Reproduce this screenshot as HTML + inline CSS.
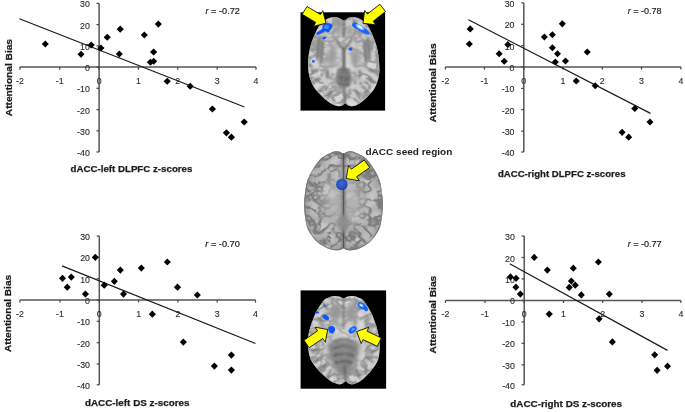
<!DOCTYPE html>
<html><head><meta charset="utf-8"><style>
html,body{margin:0;padding:0;background:#fff;}
svg{display:block;filter:blur(0.35px);will-change:transform;}
.tk{font-family:"Liberation Sans",sans-serif;font-size:8.8px;fill:#2a2a2a;stroke:#2a2a2a;stroke-width:0.12px;}
.rl{font-family:"Liberation Sans",sans-serif;font-size:9px;fill:#222;stroke:#222;stroke-width:0.2px;}
.tl{font-family:"Liberation Sans",sans-serif;font-size:9.4px;font-weight:bold;fill:#1c1c1c;stroke:#1c1c1c;stroke-width:0.25px;}
.sd{font-family:"Liberation Sans",sans-serif;font-size:9.8px;font-weight:bold;fill:#222;}
</style></head><body>
<svg width="685" height="412" viewBox="0 0 685 412">
<defs>
<filter id="nz0" x="0" y="0" width="100%" height="100%"><feTurbulence type="turbulence" baseFrequency="0.09 0.12" numOctaves="2" seed="3"/><feColorMatrix type="matrix" values="0 0 0 0 0.3 0 0 0 0 0.3 0 0 0 0 0.3 -3.2 0 0 0 1.15"/><feGaussianBlur stdDeviation="0.55"/></filter>
<filter id="nz1" x="0" y="0" width="100%" height="100%"><feTurbulence type="turbulence" baseFrequency="0.1 0.12" numOctaves="2" seed="7"/><feColorMatrix type="matrix" values="0 0 0 0 0.2 0 0 0 0 0.2 0 0 0 0 0.2 -4.5 0 0 0 1.45"/><feGaussianBlur stdDeviation="0.55"/></filter>
<filter id="nz2" x="0" y="0" width="100%" height="100%"><feTurbulence type="turbulence" baseFrequency="0.09 0.12" numOctaves="2" seed="11"/><feColorMatrix type="matrix" values="0 0 0 0 0.3 0 0 0 0 0.3 0 0 0 0 0.3 -3.2 0 0 0 1.15"/><feGaussianBlur stdDeviation="0.55"/></filter>
<filter id="bl" filterUnits="userSpaceOnUse" x="0" y="0" width="685" height="412"><feGaussianBlur stdDeviation="1.2"/></filter>
<filter id="nzL" x="0" y="0" width="100%" height="100%"><feTurbulence type="fractalNoise" baseFrequency="0.09" numOctaves="2" seed="21"/><feColorMatrix type="matrix" values="0 0 0 0 0.88 0 0 0 0 0.88 0 0 0 0 0.88 3.5 0 0 0 -1.55"/><feGaussianBlur stdDeviation="0.8"/></filter>
<filter id="bl3" filterUnits="userSpaceOnUse" x="0" y="0" width="685" height="412"><feGaussianBlur stdDeviation="2"/></filter>
<filter id="bl5" filterUnits="userSpaceOnUse" x="0" y="0" width="685" height="412"><feGaussianBlur stdDeviation="0.8"/></filter>
<filter id="bl4" filterUnits="userSpaceOnUse" x="0" y="0" width="685" height="412"><feGaussianBlur stdDeviation="0.5"/></filter>
<radialGradient id="rimg" cx="0.5" cy="0.5" r="0.5"><stop offset="0.3" stop-color="#333"/><stop offset="0.75" stop-color="#fff"/></radialGradient>
<radialGradient id="axg" cx="0.5" cy="0.5" r="0.5"><stop offset="0.25" stop-color="#555"/><stop offset="0.8" stop-color="#fff"/></radialGradient>
<mask id="axmask0" maskUnits="userSpaceOnUse" x="300" y="0" width="90" height="120"><ellipse cx="343.5" cy="61.5" rx="37" ry="47" fill="url(#axg)"/></mask>
<mask id="axmask2" maskUnits="userSpaceOnUse" x="300" y="280" width="90" height="120"><ellipse cx="343.5" cy="340" rx="37" ry="46" fill="url(#axg)"/></mask>
<mask id="rimmask" maskUnits="userSpaceOnUse" x="300" y="140" width="90" height="120"><ellipse cx="343.5" cy="200.5" rx="40" ry="51" fill="url(#rimg)"/></mask>
<filter id="bl2" filterUnits="userSpaceOnUse" x="0" y="0" width="685" height="412"><feGaussianBlur stdDeviation="0.6"/></filter>
<radialGradient id="dot" cx="0.45" cy="0.42" r="0.6"><stop offset="0" stop-color="#3d68d8"/><stop offset="0.7" stop-color="#2b50c0"/><stop offset="1" stop-color="#1d3a98"/></radialGradient>
</defs>
<rect width="685" height="412" fill="#fff"/>
<line x1="19.9" y1="67.1" x2="256.0" y2="67.1" stroke="#555555" stroke-width="1.5"/>
<line x1="99.1" y1="3.4" x2="99.1" y2="152.0" stroke="#555555" stroke-width="1.5"/>
<line x1="19.9" y1="67.1" x2="19.9" y2="69.69999999999999" stroke="#444" stroke-width="1.2"/>
<text x="19.9" y="83.6" text-anchor="middle" class="tk">-2</text>
<line x1="59.7" y1="67.1" x2="59.7" y2="69.69999999999999" stroke="#444" stroke-width="1.2"/>
<text x="59.7" y="83.6" text-anchor="middle" class="tk">-1</text>
<line x1="99.1" y1="67.1" x2="99.1" y2="69.69999999999999" stroke="#444" stroke-width="1.2"/>
<text x="99.1" y="83.6" text-anchor="middle" class="tk">0</text>
<line x1="138.4" y1="67.1" x2="138.4" y2="69.69999999999999" stroke="#444" stroke-width="1.2"/>
<text x="138.4" y="83.6" text-anchor="middle" class="tk">1</text>
<line x1="177.8" y1="67.1" x2="177.8" y2="69.69999999999999" stroke="#444" stroke-width="1.2"/>
<text x="177.8" y="83.6" text-anchor="middle" class="tk">2</text>
<line x1="217.2" y1="67.1" x2="217.2" y2="69.69999999999999" stroke="#444" stroke-width="1.2"/>
<text x="217.2" y="83.6" text-anchor="middle" class="tk">3</text>
<line x1="256.0" y1="67.1" x2="256.0" y2="69.69999999999999" stroke="#444" stroke-width="1.2"/>
<text x="256.0" y="83.6" text-anchor="middle" class="tk">4</text>
<line x1="96.5" y1="152.0" x2="99.1" y2="152.0" stroke="#444" stroke-width="1.2"/>
<text x="89.8" y="156.0" text-anchor="end" class="tk">-40</text>
<line x1="96.5" y1="130.8" x2="99.1" y2="130.8" stroke="#444" stroke-width="1.2"/>
<text x="89.8" y="134.8" text-anchor="end" class="tk">-30</text>
<line x1="96.5" y1="109.6" x2="99.1" y2="109.6" stroke="#444" stroke-width="1.2"/>
<text x="89.8" y="113.6" text-anchor="end" class="tk">-20</text>
<line x1="96.5" y1="88.3" x2="99.1" y2="88.3" stroke="#444" stroke-width="1.2"/>
<text x="89.8" y="92.3" text-anchor="end" class="tk">-10</text>
<line x1="96.5" y1="67.1" x2="99.1" y2="67.1" stroke="#444" stroke-width="1.2"/>
<text x="89.8" y="71.1" text-anchor="end" class="tk">0</text>
<line x1="96.5" y1="45.9" x2="99.1" y2="45.9" stroke="#444" stroke-width="1.2"/>
<text x="89.8" y="49.9" text-anchor="end" class="tk">10</text>
<line x1="96.5" y1="24.6" x2="99.1" y2="24.6" stroke="#444" stroke-width="1.2"/>
<text x="89.8" y="28.6" text-anchor="end" class="tk">20</text>
<line x1="96.5" y1="3.4" x2="99.1" y2="3.4" stroke="#444" stroke-width="1.2"/>
<text x="89.8" y="7.4" text-anchor="end" class="tk">30</text>
<line x1="19.4" y1="18.7" x2="244.5" y2="107.0" stroke="#1a1a1a" stroke-width="1.2"/>
<path d="M45.3 40.6L48.8 44.1L45.3 47.6L41.8 44.1Z" fill="#000"/>
<path d="M81.0 50.7L84.5 54.2L81.0 57.8L77.5 54.2Z" fill="#000"/>
<path d="M91.2 41.5L94.8 45.0L91.2 48.5L87.7 45.0Z" fill="#000"/>
<path d="M100.9 44.6L104.5 48.1L100.9 51.6L97.4 48.1Z" fill="#000"/>
<path d="M107.2 33.7L110.8 37.2L107.2 40.8L103.7 37.2Z" fill="#000"/>
<path d="M120.2 25.6L123.8 29.2L120.2 32.8L116.7 29.2Z" fill="#000"/>
<path d="M119.3 50.4L122.8 53.9L119.3 57.4L115.8 53.9Z" fill="#000"/>
<path d="M144.3 31.4L147.9 35.0L144.3 38.5L140.8 35.0Z" fill="#000"/>
<path d="M158.3 20.6L161.9 24.1L158.3 27.7L154.8 24.1Z" fill="#000"/>
<path d="M153.6 48.5L157.2 52.0L153.6 55.5L150.0 52.0Z" fill="#000"/>
<path d="M150.4 58.7L154.0 62.2L150.4 65.8L146.8 62.2Z" fill="#000"/>
<path d="M153.7 57.7L157.2 61.2L153.7 64.8L150.1 61.2Z" fill="#000"/>
<path d="M167.2 77.7L170.8 81.2L167.2 84.8L163.6 81.2Z" fill="#000"/>
<path d="M190.2 82.7L193.8 86.2L190.2 89.8L186.6 86.2Z" fill="#000"/>
<path d="M212.4 105.5L216.0 109.0L212.4 112.5L208.8 109.0Z" fill="#000"/>
<path d="M244.2 118.4L247.8 121.9L244.2 125.5L240.6 121.9Z" fill="#000"/>
<path d="M226.4 129.2L230.0 132.8L226.4 136.4L222.8 132.8Z" fill="#000"/>
<path d="M231.4 133.6L235.0 137.2L231.4 140.8L227.8 137.2Z" fill="#000"/>
<text x="205.5" y="13.5" class="rl" textLength="34.4" lengthAdjust="spacingAndGlyphs"><tspan font-style="italic">r</tspan> = -0.72</text>
<text transform="translate(12.1,77.6) rotate(-90)" x="0" y="0" text-anchor="middle" class="tl" textLength="77.2" lengthAdjust="spacingAndGlyphs">Attentional Bias</text>
<text x="70.5" y="172.2" class="tl" textLength="121.9" lengthAdjust="spacingAndGlyphs">dACC-left DLPFC z-scores</text>
<line x1="445.4" y1="67.0" x2="680.9" y2="67.0" stroke="#555555" stroke-width="1.5"/>
<line x1="523.8" y1="2.9" x2="523.8" y2="152.0" stroke="#555555" stroke-width="1.5"/>
<line x1="445.4" y1="67.0" x2="445.4" y2="69.6" stroke="#444" stroke-width="1.2"/>
<text x="445.4" y="83.5" text-anchor="middle" class="tk">-2</text>
<line x1="484.5" y1="67.0" x2="484.5" y2="69.6" stroke="#444" stroke-width="1.2"/>
<text x="484.5" y="83.5" text-anchor="middle" class="tk">-1</text>
<line x1="523.8" y1="67.0" x2="523.8" y2="69.6" stroke="#444" stroke-width="1.2"/>
<text x="523.8" y="83.5" text-anchor="middle" class="tk">0</text>
<line x1="563.0" y1="67.0" x2="563.0" y2="69.6" stroke="#444" stroke-width="1.2"/>
<text x="563.0" y="83.5" text-anchor="middle" class="tk">1</text>
<line x1="602.3" y1="67.0" x2="602.3" y2="69.6" stroke="#444" stroke-width="1.2"/>
<text x="602.3" y="83.5" text-anchor="middle" class="tk">2</text>
<line x1="641.5" y1="67.0" x2="641.5" y2="69.6" stroke="#444" stroke-width="1.2"/>
<text x="641.5" y="83.5" text-anchor="middle" class="tk">3</text>
<line x1="680.9" y1="67.0" x2="680.9" y2="69.6" stroke="#444" stroke-width="1.2"/>
<text x="680.9" y="83.5" text-anchor="middle" class="tk">4</text>
<line x1="521.1999999999999" y1="152.0" x2="523.8" y2="152.0" stroke="#444" stroke-width="1.2"/>
<text x="514.5" y="156.0" text-anchor="end" class="tk">-40</text>
<line x1="521.1999999999999" y1="131.1" x2="523.8" y2="131.1" stroke="#444" stroke-width="1.2"/>
<text x="514.5" y="135.1" text-anchor="end" class="tk">-30</text>
<line x1="521.1999999999999" y1="109.7" x2="523.8" y2="109.7" stroke="#444" stroke-width="1.2"/>
<text x="514.5" y="113.7" text-anchor="end" class="tk">-20</text>
<line x1="521.1999999999999" y1="88.4" x2="523.8" y2="88.4" stroke="#444" stroke-width="1.2"/>
<text x="514.5" y="92.4" text-anchor="end" class="tk">-10</text>
<line x1="521.1999999999999" y1="67.0" x2="523.8" y2="67.0" stroke="#444" stroke-width="1.2"/>
<text x="514.5" y="71.0" text-anchor="end" class="tk">0</text>
<line x1="521.1999999999999" y1="45.6" x2="523.8" y2="45.6" stroke="#444" stroke-width="1.2"/>
<text x="514.5" y="49.6" text-anchor="end" class="tk">10</text>
<line x1="521.1999999999999" y1="24.3" x2="523.8" y2="24.3" stroke="#444" stroke-width="1.2"/>
<text x="514.5" y="28.3" text-anchor="end" class="tk">20</text>
<line x1="521.1999999999999" y1="2.9" x2="523.8" y2="2.9" stroke="#444" stroke-width="1.2"/>
<text x="514.5" y="6.9" text-anchor="end" class="tk">30</text>
<line x1="468.4" y1="19.7" x2="650.5" y2="113.4" stroke="#1a1a1a" stroke-width="1.2"/>
<path d="M470.2 25.3L473.8 28.9L470.2 32.4L466.6 28.9Z" fill="#000"/>
<path d="M469.4 40.5L472.9 44.0L469.4 47.5L465.8 44.0Z" fill="#000"/>
<path d="M499.1 50.2L502.7 53.8L499.1 57.3L495.6 53.8Z" fill="#000"/>
<path d="M504.2 57.7L507.8 61.2L504.2 64.8L500.6 61.2Z" fill="#000"/>
<path d="M507.9 41.1L511.4 44.6L507.9 48.1L504.3 44.6Z" fill="#000"/>
<path d="M544.4 33.4L547.9 36.9L544.4 40.4L540.9 36.9Z" fill="#000"/>
<path d="M552.4 31.2L555.9 34.7L552.4 38.2L548.9 34.7Z" fill="#000"/>
<path d="M562.3 20.2L565.8 23.8L562.3 27.4L558.8 23.8Z" fill="#000"/>
<path d="M552.4 44.2L555.9 47.8L552.4 51.3L548.9 47.8Z" fill="#000"/>
<path d="M557.5 50.2L561.0 53.8L557.5 57.3L554.0 53.8Z" fill="#000"/>
<path d="M555.3 58.4L558.8 61.9L555.3 65.5L551.8 61.9Z" fill="#000"/>
<path d="M565.5 57.4L569.0 60.9L565.5 64.5L562.0 60.9Z" fill="#000"/>
<path d="M587.2 48.4L590.8 51.9L587.2 55.4L583.7 51.9Z" fill="#000"/>
<path d="M576.2 77.4L579.8 80.9L576.2 84.5L572.7 80.9Z" fill="#000"/>
<path d="M595.2 82.2L598.8 85.8L595.2 89.3L591.7 85.8Z" fill="#000"/>
<path d="M634.8 105.0L638.3 108.5L634.8 112.0L631.2 108.5Z" fill="#000"/>
<path d="M650.0 118.4L653.5 121.9L650.0 125.5L646.5 121.9Z" fill="#000"/>
<path d="M622.1 128.8L625.6 132.3L622.1 135.9L618.6 132.3Z" fill="#000"/>
<path d="M628.7 133.6L632.2 137.2L628.7 140.8L625.2 137.2Z" fill="#000"/>
<text x="627.7" y="14.3" class="rl" textLength="33.8" lengthAdjust="spacingAndGlyphs"><tspan font-style="italic">r</tspan> = -0.78</text>
<text transform="translate(436.2,82.8) rotate(-90)" x="0" y="0" text-anchor="middle" class="tl" textLength="78.9" lengthAdjust="spacingAndGlyphs">Attentional Bias</text>
<text x="497.9" y="176.8" class="tl" textLength="127.6" lengthAdjust="spacingAndGlyphs">dACC-right DLPFC z-scores</text>
<line x1="19.9" y1="300.0" x2="255.5" y2="300.0" stroke="#555555" stroke-width="1.5"/>
<line x1="99.3" y1="236.0" x2="99.3" y2="384.8" stroke="#555555" stroke-width="1.5"/>
<line x1="19.9" y1="300.0" x2="19.9" y2="302.6" stroke="#444" stroke-width="1.2"/>
<text x="19.9" y="316.5" text-anchor="middle" class="tk">-2</text>
<line x1="60.0" y1="300.0" x2="60.0" y2="302.6" stroke="#444" stroke-width="1.2"/>
<text x="60.0" y="316.5" text-anchor="middle" class="tk">-1</text>
<line x1="99.3" y1="300.0" x2="99.3" y2="302.6" stroke="#444" stroke-width="1.2"/>
<text x="99.3" y="316.5" text-anchor="middle" class="tk">0</text>
<line x1="138.6" y1="300.0" x2="138.6" y2="302.6" stroke="#444" stroke-width="1.2"/>
<text x="138.6" y="316.5" text-anchor="middle" class="tk">1</text>
<line x1="177.9" y1="300.0" x2="177.9" y2="302.6" stroke="#444" stroke-width="1.2"/>
<text x="177.9" y="316.5" text-anchor="middle" class="tk">2</text>
<line x1="217.2" y1="300.0" x2="217.2" y2="302.6" stroke="#444" stroke-width="1.2"/>
<text x="217.2" y="316.5" text-anchor="middle" class="tk">3</text>
<line x1="255.5" y1="300.0" x2="255.5" y2="302.6" stroke="#444" stroke-width="1.2"/>
<text x="255.5" y="316.5" text-anchor="middle" class="tk">4</text>
<line x1="96.7" y1="384.8" x2="99.3" y2="384.8" stroke="#444" stroke-width="1.2"/>
<text x="90.0" y="388.8" text-anchor="end" class="tk">-40</text>
<line x1="96.7" y1="364.0" x2="99.3" y2="364.0" stroke="#444" stroke-width="1.2"/>
<text x="90.0" y="368.0" text-anchor="end" class="tk">-30</text>
<line x1="96.7" y1="342.7" x2="99.3" y2="342.7" stroke="#444" stroke-width="1.2"/>
<text x="90.0" y="346.7" text-anchor="end" class="tk">-20</text>
<line x1="96.7" y1="321.3" x2="99.3" y2="321.3" stroke="#444" stroke-width="1.2"/>
<text x="90.0" y="325.3" text-anchor="end" class="tk">-10</text>
<line x1="96.7" y1="300.0" x2="99.3" y2="300.0" stroke="#444" stroke-width="1.2"/>
<text x="90.0" y="304.0" text-anchor="end" class="tk">0</text>
<line x1="96.7" y1="278.7" x2="99.3" y2="278.7" stroke="#444" stroke-width="1.2"/>
<text x="90.0" y="282.7" text-anchor="end" class="tk">10</text>
<line x1="96.7" y1="257.3" x2="99.3" y2="257.3" stroke="#444" stroke-width="1.2"/>
<text x="90.0" y="261.3" text-anchor="end" class="tk">20</text>
<line x1="96.7" y1="236.0" x2="99.3" y2="236.0" stroke="#444" stroke-width="1.2"/>
<text x="90.0" y="240.0" text-anchor="end" class="tk">30</text>
<line x1="62.0" y1="265.9" x2="255.5" y2="343.5" stroke="#1a1a1a" stroke-width="1.2"/>
<path d="M62.5 274.8L66.0 278.3L62.5 281.9L59.0 278.3Z" fill="#000"/>
<path d="M71.3 273.6L74.8 277.1L71.3 280.7L67.8 277.1Z" fill="#000"/>
<path d="M67.2 283.6L70.8 287.2L67.2 290.8L63.7 287.2Z" fill="#000"/>
<path d="M85.4 290.6L89.0 294.1L85.4 297.7L81.9 294.1Z" fill="#000"/>
<path d="M95.3 253.8L98.8 257.3L95.3 260.9L91.8 257.3Z" fill="#000"/>
<path d="M104.2 281.6L107.8 285.2L104.2 288.8L100.7 285.2Z" fill="#000"/>
<path d="M114.3 277.8L117.8 281.3L114.3 284.9L110.8 281.3Z" fill="#000"/>
<path d="M120.3 266.6L123.8 270.1L120.3 273.7L116.8 270.1Z" fill="#000"/>
<path d="M123.5 290.6L127.0 294.1L123.5 297.7L120.0 294.1Z" fill="#000"/>
<path d="M141.3 264.6L144.9 268.1L141.3 271.7L137.8 268.1Z" fill="#000"/>
<path d="M167.3 258.4L170.9 262.0L167.3 265.6L163.8 262.0Z" fill="#000"/>
<path d="M177.5 283.6L181.1 287.2L177.5 290.8L173.9 287.2Z" fill="#000"/>
<path d="M197.3 291.4L200.9 295.0L197.3 298.6L193.8 295.0Z" fill="#000"/>
<path d="M152.3 310.6L155.9 314.2L152.3 317.8L148.8 314.2Z" fill="#000"/>
<path d="M183.3 338.6L186.9 342.1L183.3 345.7L179.8 342.1Z" fill="#000"/>
<path d="M231.4 351.6L235.0 355.1L231.4 358.7L227.8 355.1Z" fill="#000"/>
<path d="M214.3 362.6L217.9 366.1L214.3 369.7L210.8 366.1Z" fill="#000"/>
<path d="M231.4 366.6L235.0 370.1L231.4 373.7L227.8 370.1Z" fill="#000"/>
<text x="205.3" y="247.3" class="rl" textLength="34.5" lengthAdjust="spacingAndGlyphs"><tspan font-style="italic">r</tspan> = -0.70</text>
<text transform="translate(10.5,313.4) rotate(-90)" x="0" y="0" text-anchor="middle" class="tl" textLength="77.2" lengthAdjust="spacingAndGlyphs">Attentional Bias</text>
<text x="85.0" y="406.3" class="tl" textLength="104.5" lengthAdjust="spacingAndGlyphs">dACC-left DS z-scores</text>
<line x1="445.4" y1="300.4" x2="680.9" y2="300.4" stroke="#555555" stroke-width="1.5"/>
<line x1="524.2" y1="236.0" x2="524.2" y2="384.8" stroke="#555555" stroke-width="1.5"/>
<line x1="445.4" y1="300.4" x2="445.4" y2="303.0" stroke="#444" stroke-width="1.2"/>
<text x="445.4" y="316.9" text-anchor="middle" class="tk">-2</text>
<line x1="485.0" y1="300.4" x2="485.0" y2="303.0" stroke="#444" stroke-width="1.2"/>
<text x="485.0" y="316.9" text-anchor="middle" class="tk">-1</text>
<line x1="524.2" y1="300.4" x2="524.2" y2="303.0" stroke="#444" stroke-width="1.2"/>
<text x="524.2" y="316.9" text-anchor="middle" class="tk">0</text>
<line x1="563.5" y1="300.4" x2="563.5" y2="303.0" stroke="#444" stroke-width="1.2"/>
<text x="563.5" y="316.9" text-anchor="middle" class="tk">1</text>
<line x1="602.7" y1="300.4" x2="602.7" y2="303.0" stroke="#444" stroke-width="1.2"/>
<text x="602.7" y="316.9" text-anchor="middle" class="tk">2</text>
<line x1="642.0" y1="300.4" x2="642.0" y2="303.0" stroke="#444" stroke-width="1.2"/>
<text x="642.0" y="316.9" text-anchor="middle" class="tk">3</text>
<line x1="680.9" y1="300.4" x2="680.9" y2="303.0" stroke="#444" stroke-width="1.2"/>
<text x="680.9" y="316.9" text-anchor="middle" class="tk">4</text>
<line x1="521.6" y1="384.8" x2="524.2" y2="384.8" stroke="#444" stroke-width="1.2"/>
<text x="514.9" y="388.8" text-anchor="end" class="tk">-40</text>
<line x1="521.6" y1="364.8" x2="524.2" y2="364.8" stroke="#444" stroke-width="1.2"/>
<text x="514.9" y="368.8" text-anchor="end" class="tk">-30</text>
<line x1="521.6" y1="343.3" x2="524.2" y2="343.3" stroke="#444" stroke-width="1.2"/>
<text x="514.9" y="347.3" text-anchor="end" class="tk">-20</text>
<line x1="521.6" y1="321.9" x2="524.2" y2="321.9" stroke="#444" stroke-width="1.2"/>
<text x="514.9" y="325.9" text-anchor="end" class="tk">-10</text>
<line x1="521.6" y1="300.4" x2="524.2" y2="300.4" stroke="#444" stroke-width="1.2"/>
<text x="514.9" y="304.4" text-anchor="end" class="tk">0</text>
<line x1="521.6" y1="278.9" x2="524.2" y2="278.9" stroke="#444" stroke-width="1.2"/>
<text x="514.9" y="282.9" text-anchor="end" class="tk">10</text>
<line x1="521.6" y1="257.5" x2="524.2" y2="257.5" stroke="#444" stroke-width="1.2"/>
<text x="514.9" y="261.5" text-anchor="end" class="tk">20</text>
<line x1="521.6" y1="236.0" x2="524.2" y2="236.0" stroke="#444" stroke-width="1.2"/>
<text x="514.9" y="240.0" text-anchor="end" class="tk">30</text>
<line x1="509.7" y1="263.7" x2="667.5" y2="350.4" stroke="#1a1a1a" stroke-width="1.2"/>
<path d="M510.5 273.3L514.0 276.9L510.5 280.4L506.9 276.9Z" fill="#000"/>
<path d="M516.1 274.8L519.6 278.3L516.1 281.9L512.6 278.3Z" fill="#000"/>
<path d="M515.9 283.6L519.4 287.2L515.9 290.8L512.4 287.2Z" fill="#000"/>
<path d="M520.3 290.6L523.8 294.1L520.3 297.7L516.8 294.1Z" fill="#000"/>
<path d="M534.2 253.8L537.8 257.4L534.2 260.9L530.7 257.4Z" fill="#000"/>
<path d="M547.3 266.6L550.8 270.1L547.3 273.7L543.8 270.1Z" fill="#000"/>
<path d="M573.3 264.6L576.8 268.2L573.3 271.8L569.8 268.2Z" fill="#000"/>
<path d="M598.4 258.4L601.9 262.0L598.4 265.6L594.9 262.0Z" fill="#000"/>
<path d="M571.3 277.6L574.8 281.1L571.3 284.7L567.8 281.1Z" fill="#000"/>
<path d="M575.2 281.6L578.8 285.2L575.2 288.8L571.7 285.2Z" fill="#000"/>
<path d="M569.2 283.8L572.8 287.4L569.2 290.9L565.7 287.4Z" fill="#000"/>
<path d="M581.3 291.3L584.8 294.9L581.3 298.4L577.8 294.9Z" fill="#000"/>
<path d="M609.3 290.6L612.8 294.1L609.3 297.7L605.8 294.1Z" fill="#000"/>
<path d="M549.2 310.6L552.8 314.1L549.2 317.7L545.7 314.1Z" fill="#000"/>
<path d="M599.1 315.2L602.6 318.8L599.1 322.4L595.6 318.8Z" fill="#000"/>
<path d="M612.4 338.3L615.9 341.9L612.4 345.4L608.9 341.9Z" fill="#000"/>
<path d="M654.7 351.2L658.2 354.8L654.7 358.4L651.2 354.8Z" fill="#000"/>
<path d="M667.5 362.6L671.0 366.2L667.5 369.8L664.0 366.2Z" fill="#000"/>
<path d="M657.1 366.8L660.6 370.3L657.1 373.9L653.6 370.3Z" fill="#000"/>
<text x="627.7" y="247.3" class="rl" textLength="33.8" lengthAdjust="spacingAndGlyphs"><tspan font-style="italic">r</tspan> = -0.77</text>
<text transform="translate(435.7,314.6) rotate(-90)" x="0" y="0" text-anchor="middle" class="tl" textLength="77.8" lengthAdjust="spacingAndGlyphs">Attentional Bias</text>
<text x="510.3" y="406.8" class="tl" textLength="111.8" lengthAdjust="spacingAndGlyphs">dACC-right DS z-scores</text>
<rect x="300.5" y="12.3" width="84.6" height="98.3" fill="#000"/>
<rect x="300.6" y="290.4" width="85.5" height="98.3" fill="#000"/>
<clipPath id="cp0"><path d="M344.2 20.6 C345.7 20.6 346.6 18.5 348.0 17.9 C349.4 17.3 350.8 17.1 352.5 17.1 C354.2 17.1 356.2 17.4 358.0 18.0 C359.8 18.6 361.5 19.7 363.0 20.8 C364.5 21.9 365.8 23.3 367.0 24.8 C368.2 26.3 368.9 27.5 370.2 30.0 C371.5 32.5 373.4 36.7 374.6 40.0 C375.8 43.3 376.8 46.7 377.5 50.0 C378.2 53.3 378.6 56.7 378.9 60.0 C379.2 63.3 379.6 66.7 379.5 70.0 C379.3 73.3 379.0 76.7 378.0 80.0 C377.0 83.3 375.8 86.7 373.5 90.0 C371.2 93.3 366.8 97.6 364.2 100.0 C361.5 102.4 359.7 103.5 357.7 104.6 C355.8 105.6 353.9 106.1 352.3 106.3 C350.7 106.5 349.5 106.1 348.3 105.6 C347.1 105.1 346.2 103.2 345.2 103.2 C344.2 103.2 343.4 105.1 342.3 105.6 C341.1 106.1 339.9 106.5 338.3 106.3 C336.7 106.1 334.8 105.6 332.7 104.6 C330.7 103.5 328.8 102.4 326.0 100.0 C323.2 97.6 318.4 93.3 315.9 90.0 C313.3 86.7 311.8 83.3 310.6 80.0 C309.3 76.7 308.7 73.3 308.3 70.0 C307.9 66.7 307.9 63.3 308.1 60.0 C308.3 56.7 308.8 53.3 309.5 50.0 C310.2 46.7 311.2 43.3 312.4 40.0 C313.6 36.7 315.5 32.5 316.8 30.0 C318.1 27.5 318.8 26.3 320.0 24.8 C321.2 23.3 322.5 21.9 324.0 20.8 C325.5 19.7 327.2 18.6 329.0 18.0 C330.8 17.4 332.8 17.1 334.5 17.1 C336.2 17.1 337.4 17.3 339.0 17.9 C340.6 18.5 342.7 20.6 344.2 20.6Z"/></clipPath>
<path d="M344.2 20.6 C345.7 20.6 346.6 18.5 348.0 17.9 C349.4 17.3 350.8 17.1 352.5 17.1 C354.2 17.1 356.2 17.4 358.0 18.0 C359.8 18.6 361.5 19.7 363.0 20.8 C364.5 21.9 365.8 23.3 367.0 24.8 C368.2 26.3 368.9 27.5 370.2 30.0 C371.5 32.5 373.4 36.7 374.6 40.0 C375.8 43.3 376.8 46.7 377.5 50.0 C378.2 53.3 378.6 56.7 378.9 60.0 C379.2 63.3 379.6 66.7 379.5 70.0 C379.3 73.3 379.0 76.7 378.0 80.0 C377.0 83.3 375.8 86.7 373.5 90.0 C371.2 93.3 366.8 97.6 364.2 100.0 C361.5 102.4 359.7 103.5 357.7 104.6 C355.8 105.6 353.9 106.1 352.3 106.3 C350.7 106.5 349.5 106.1 348.3 105.6 C347.1 105.1 346.2 103.2 345.2 103.2 C344.2 103.2 343.4 105.1 342.3 105.6 C341.1 106.1 339.9 106.5 338.3 106.3 C336.7 106.1 334.8 105.6 332.7 104.6 C330.7 103.5 328.8 102.4 326.0 100.0 C323.2 97.6 318.4 93.3 315.9 90.0 C313.3 86.7 311.8 83.3 310.6 80.0 C309.3 76.7 308.7 73.3 308.3 70.0 C307.9 66.7 307.9 63.3 308.1 60.0 C308.3 56.7 308.8 53.3 309.5 50.0 C310.2 46.7 311.2 43.3 312.4 40.0 C313.6 36.7 315.5 32.5 316.8 30.0 C318.1 27.5 318.8 26.3 320.0 24.8 C321.2 23.3 322.5 21.9 324.0 20.8 C325.5 19.7 327.2 18.6 329.0 18.0 C330.8 17.4 332.8 17.1 334.5 17.1 C336.2 17.1 337.4 17.3 339.0 17.9 C340.6 18.5 342.7 20.6 344.2 20.6Z" fill="#cbcbcb"/>
<clipPath id="cp1"><path d="M343.5 153.4 C344.8 153.4 346.0 152.1 347.5 151.8 C349.0 151.5 350.1 151.0 352.3 151.5 C354.5 152.0 358.2 153.6 360.7 155.0 C363.2 156.4 365.1 157.5 367.4 160.0 C369.7 162.5 372.6 166.7 374.6 170.0 C376.6 173.3 378.2 176.7 379.4 180.0 C380.5 183.3 381.0 186.7 381.5 190.0 C382.0 193.3 382.4 196.7 382.6 200.0 C382.8 203.3 382.8 206.7 382.6 210.0 C382.4 213.3 382.1 216.7 381.5 220.0 C380.9 223.3 380.4 226.7 378.8 230.0 C377.2 233.3 374.1 237.5 371.9 240.0 C369.7 242.5 368.0 243.4 365.5 245.0 C363.0 246.6 359.6 248.4 357.0 249.3 C354.4 250.2 351.8 250.2 350.0 250.3 C348.2 250.4 347.1 249.9 346.0 249.6 C344.9 249.2 344.3 248.2 343.5 248.2 C342.7 248.2 342.1 249.2 341.0 249.6 C339.9 249.9 338.8 250.4 337.0 250.3 C335.2 250.2 332.6 250.2 330.0 249.3 C327.4 248.4 324.0 246.6 321.5 245.0 C319.0 243.4 317.3 242.5 315.1 240.0 C312.9 237.5 309.8 233.3 308.2 230.0 C306.6 226.7 306.1 223.3 305.5 220.0 C304.9 216.7 304.6 213.3 304.4 210.0 C304.2 206.7 304.2 203.3 304.4 200.0 C304.6 196.7 305.0 193.3 305.5 190.0 C306.0 186.7 306.5 183.3 307.6 180.0 C308.8 176.7 310.4 173.3 312.4 170.0 C314.4 166.7 317.3 162.5 319.6 160.0 C321.9 157.5 323.8 156.4 326.3 155.0 C328.8 153.6 332.5 152.0 334.7 151.5 C336.9 151.0 338.0 151.5 339.5 151.8 C341.0 152.1 342.2 153.4 343.5 153.4Z"/></clipPath>
<path d="M343.5 153.4 C344.8 153.4 346.0 152.1 347.5 151.8 C349.0 151.5 350.1 151.0 352.3 151.5 C354.5 152.0 358.2 153.6 360.7 155.0 C363.2 156.4 365.1 157.5 367.4 160.0 C369.7 162.5 372.6 166.7 374.6 170.0 C376.6 173.3 378.2 176.7 379.4 180.0 C380.5 183.3 381.0 186.7 381.5 190.0 C382.0 193.3 382.4 196.7 382.6 200.0 C382.8 203.3 382.8 206.7 382.6 210.0 C382.4 213.3 382.1 216.7 381.5 220.0 C380.9 223.3 380.4 226.7 378.8 230.0 C377.2 233.3 374.1 237.5 371.9 240.0 C369.7 242.5 368.0 243.4 365.5 245.0 C363.0 246.6 359.6 248.4 357.0 249.3 C354.4 250.2 351.8 250.2 350.0 250.3 C348.2 250.4 347.1 249.9 346.0 249.6 C344.9 249.2 344.3 248.2 343.5 248.2 C342.7 248.2 342.1 249.2 341.0 249.6 C339.9 249.9 338.8 250.4 337.0 250.3 C335.2 250.2 332.6 250.2 330.0 249.3 C327.4 248.4 324.0 246.6 321.5 245.0 C319.0 243.4 317.3 242.5 315.1 240.0 C312.9 237.5 309.8 233.3 308.2 230.0 C306.6 226.7 306.1 223.3 305.5 220.0 C304.9 216.7 304.6 213.3 304.4 210.0 C304.2 206.7 304.2 203.3 304.4 200.0 C304.6 196.7 305.0 193.3 305.5 190.0 C306.0 186.7 306.5 183.3 307.6 180.0 C308.8 176.7 310.4 173.3 312.4 170.0 C314.4 166.7 317.3 162.5 319.6 160.0 C321.9 157.5 323.8 156.4 326.3 155.0 C328.8 153.6 332.5 152.0 334.7 151.5 C336.9 151.0 338.0 151.5 339.5 151.8 C341.0 152.1 342.2 153.4 343.5 153.4Z" fill="#b2b2b2"/>
<clipPath id="cp2"><path d="M343.5 298.2 C344.8 298.2 346.1 297.0 347.5 296.6 C348.9 296.2 350.3 296.0 352.0 296.1 C353.7 296.2 355.6 296.4 357.5 297.2 C359.4 297.9 361.2 298.0 363.5 300.6 C365.8 303.2 369.1 308.7 371.2 312.8 C373.3 316.9 374.7 321.0 376.0 325.1 C377.3 329.2 378.4 333.4 379.0 337.5 C379.6 341.6 380.0 345.8 379.7 349.9 C379.4 354.0 379.0 358.2 377.0 362.3 C375.0 366.4 370.5 371.5 367.7 374.6 C365.0 377.7 363.0 379.4 360.6 381.0 C358.1 382.6 355.2 383.9 353.2 384.3 C351.2 384.7 350.0 384.1 348.7 383.6 C347.4 383.1 346.6 381.3 345.6 381.3 C344.6 381.3 343.9 383.1 342.7 383.6 C341.5 384.1 340.2 384.7 338.2 384.3 C336.2 383.9 333.1 382.6 330.6 381.0 C328.0 379.4 325.8 377.7 322.7 374.6 C319.7 371.5 314.6 366.4 312.2 362.3 C309.8 358.2 309.0 354.0 308.3 349.9 C307.6 345.8 307.5 341.6 308.0 337.5 C308.5 333.4 309.7 329.2 311.0 325.1 C312.3 321.0 313.7 316.9 315.8 312.8 C317.9 308.7 321.2 303.2 323.5 300.6 C325.8 298.0 327.6 297.9 329.5 297.2 C331.4 296.4 333.3 296.2 335.0 296.1 C336.7 296.0 338.1 296.2 339.5 296.6 C340.9 297.0 342.2 298.2 343.5 298.2Z"/></clipPath>
<path d="M343.5 298.2 C344.8 298.2 346.1 297.0 347.5 296.6 C348.9 296.2 350.3 296.0 352.0 296.1 C353.7 296.2 355.6 296.4 357.5 297.2 C359.4 297.9 361.2 298.0 363.5 300.6 C365.8 303.2 369.1 308.7 371.2 312.8 C373.3 316.9 374.7 321.0 376.0 325.1 C377.3 329.2 378.4 333.4 379.0 337.5 C379.6 341.6 380.0 345.8 379.7 349.9 C379.4 354.0 379.0 358.2 377.0 362.3 C375.0 366.4 370.5 371.5 367.7 374.6 C365.0 377.7 363.0 379.4 360.6 381.0 C358.1 382.6 355.2 383.9 353.2 384.3 C351.2 384.7 350.0 384.1 348.7 383.6 C347.4 383.1 346.6 381.3 345.6 381.3 C344.6 381.3 343.9 383.1 342.7 383.6 C341.5 384.1 340.2 384.7 338.2 384.3 C336.2 383.9 333.1 382.6 330.6 381.0 C328.0 379.4 325.8 377.7 322.7 374.6 C319.7 371.5 314.6 366.4 312.2 362.3 C309.8 358.2 309.0 354.0 308.3 349.9 C307.6 345.8 307.5 341.6 308.0 337.5 C308.5 333.4 309.7 329.2 311.0 325.1 C312.3 321.0 313.7 316.9 315.8 312.8 C317.9 308.7 321.2 303.2 323.5 300.6 C325.8 298.0 327.6 297.9 329.5 297.2 C331.4 296.4 333.3 296.2 335.0 296.1 C336.7 296.0 338.1 296.2 339.5 296.6 C340.9 297.0 342.2 298.2 343.5 298.2Z" fill="#cbcbcb"/>
<g clip-path="url(#cp0)"><rect x="300" y="0" width="90" height="110" filter="url(#nzL)" opacity="0.45"/><rect x="300" y="0" width="90" height="112" filter="url(#nz0)" mask="url(#axmask0)"/><g fill="#a2a2a2" filter="url(#bl3)"><ellipse cx="332" cy="57" rx="6" ry="9"/><ellipse cx="355" cy="57" rx="6" ry="9"/><ellipse cx="320" cy="48" rx="3.5" ry="11"/><ellipse cx="367" cy="48" rx="3.5" ry="11"/><ellipse cx="338" cy="30" rx="4" ry="6"/><ellipse cx="350" cy="31" rx="4" ry="6"/><ellipse cx="343.5" cy="80" rx="9" ry="8"/></g><g fill="none" stroke="#4a4a4a" stroke-width="1.5" stroke-linecap="round" filter="url(#bl5)" opacity="0.85"><path d="M343.7 20 L343.7 37"/><path d="M319 38 L317.5 60"/><path d="M322.5 42 L321 62"/><path d="M368 38 L369.5 60"/><path d="M364.5 42 L366 62"/><path d="M344.3 88 L345.2 104"/><path d="M312 72 L318 70"/><path d="M313 82 L320 78"/><path d="M318 92 L325 86"/><path d="M327 99 L331 91"/><path d="M375 72 L369 70"/><path d="M374 82 L367 78"/><path d="M369 92 L362 86"/><path d="M360 99 L356 91"/></g><g fill="#d2d2d2" filter="url(#bl5)"><ellipse cx="339.5" cy="58" rx="2.5" ry="8"/><ellipse cx="348" cy="58" rx="2.5" ry="8"/></g><ellipse cx="343.7" cy="78" rx="7.5" ry="10" fill="#777" filter="url(#bl5)"/><g fill="none" stroke="#505050" stroke-width="1.7" stroke-linecap="round" filter="url(#bl5)" opacity="0.85"><path d="M335.2 38.6 L342.7 48.8"/><path d="M352.5 38.6 L345 48.8"/><path d="M343.8 48 L343.8 67" stroke="#333" stroke-width="2.2"/><path d="M338 70 Q343.7 67 349.5 70"/><path d="M327.5 70.5 L327.2 77"/><path d="M359.8 70.5 L360.1 77"/></g><g fill="#555" filter="url(#bl5)" opacity="0.8"><circle cx="341" cy="77" r="1.5"/><circle cx="346.5" cy="79" r="1.5"/><circle cx="343.7" cy="84" r="1.5"/><circle cx="339.5" cy="83" r="1.2"/><circle cx="348" cy="85" r="1.2"/></g><rect x="300" y="0" width="90" height="112" filter="url(#nz0)" opacity="0.35"/></g>
<g clip-path="url(#cp2)"><rect x="300" y="279.6" width="90" height="110" filter="url(#nzL)" opacity="0.45"/><rect x="300" y="279.6" width="90" height="112" filter="url(#nz2)" mask="url(#axmask2)"/><g fill="#9a9a9a" filter="url(#bl3)"><path d="M327 343 Q343.5 337 360 343 L357 358 Q352 370 348 376 L339 376 Q335 370 330 358Z" fill="#858585"/><ellipse cx="336" cy="312" rx="5" ry="9"/><ellipse cx="351" cy="312" rx="5" ry="9"/><ellipse cx="318" cy="335" rx="4" ry="8"/><ellipse cx="369" cy="335" rx="4" ry="8"/></g><g fill="none" stroke="#4a4a4a" stroke-width="1.4" stroke-linecap="round" filter="url(#bl5)" opacity="0.85"><path d="M343.5 298 L343.5 328"/><path d="M334 342 Q343.5 336 353 342"/><path d="M332 349 Q343.5 343 355 349"/><path d="M333 356 Q343.5 351 354 356"/><path d="M335 363 Q343.5 359 352 363"/><path d="M344.5 365 L345.6 381"/><path d="M312 352 L319 349"/><path d="M314 362 L321 357"/><path d="M319 371 L326 364"/><path d="M327 378 L331 370"/><path d="M375 352 L368 349"/><path d="M373 362 L366 357"/><path d="M368 371 L361 364"/><path d="M360 378 L356 370"/><path d="M322 302 L328 310"/><path d="M317 318 L323 322"/><path d="M365 302 L359 310"/><path d="M370 318 L364 322"/></g><rect x="300" y="279.6" width="90" height="112" filter="url(#nz2)" opacity="0.35"/></g>
<g clip-path="url(#cp1)"><path d="M343.5 153.4 C344.8 153.4 346.0 152.1 347.5 151.8 C349.0 151.5 350.1 151.0 352.3 151.5 C354.5 152.0 358.2 153.6 360.7 155.0 C363.2 156.4 365.1 157.5 367.4 160.0 C369.7 162.5 372.6 166.7 374.6 170.0 C376.6 173.3 378.2 176.7 379.4 180.0 C380.5 183.3 381.0 186.7 381.5 190.0 C382.0 193.3 382.4 196.7 382.6 200.0 C382.8 203.3 382.8 206.7 382.6 210.0 C382.4 213.3 382.1 216.7 381.5 220.0 C380.9 223.3 380.4 226.7 378.8 230.0 C377.2 233.3 374.1 237.5 371.9 240.0 C369.7 242.5 368.0 243.4 365.5 245.0 C363.0 246.6 359.6 248.4 357.0 249.3 C354.4 250.2 351.8 250.2 350.0 250.3 C348.2 250.4 347.1 249.9 346.0 249.6 C344.9 249.2 344.3 248.2 343.5 248.2 C342.7 248.2 342.1 249.2 341.0 249.6 C339.9 249.9 338.8 250.4 337.0 250.3 C335.2 250.2 332.6 250.2 330.0 249.3 C327.4 248.4 324.0 246.6 321.5 245.0 C319.0 243.4 317.3 242.5 315.1 240.0 C312.9 237.5 309.8 233.3 308.2 230.0 C306.6 226.7 306.1 223.3 305.5 220.0 C304.9 216.7 304.6 213.3 304.4 210.0 C304.2 206.7 304.2 203.3 304.4 200.0 C304.6 196.7 305.0 193.3 305.5 190.0 C306.0 186.7 306.5 183.3 307.6 180.0 C308.8 176.7 310.4 173.3 312.4 170.0 C314.4 166.7 317.3 162.5 319.6 160.0 C321.9 157.5 323.8 156.4 326.3 155.0 C328.8 153.6 332.5 152.0 334.7 151.5 C336.9 151.0 338.0 151.5 339.5 151.8 C341.0 152.1 342.2 153.4 343.5 153.4Z" fill="none" stroke="#8a8a8a" stroke-width="7" opacity="0.55" filter="url(#bl3)"/><path d="M343.5 153.4 C344.8 153.4 346.0 152.1 347.5 151.8 C349.0 151.5 350.1 151.0 352.3 151.5 C354.5 152.0 358.2 153.6 360.7 155.0 C363.2 156.4 365.1 157.5 367.4 160.0 C369.7 162.5 372.6 166.7 374.6 170.0 C376.6 173.3 378.2 176.7 379.4 180.0 C380.5 183.3 381.0 186.7 381.5 190.0 C382.0 193.3 382.4 196.7 382.6 200.0 C382.8 203.3 382.8 206.7 382.6 210.0 C382.4 213.3 382.1 216.7 381.5 220.0 C380.9 223.3 380.4 226.7 378.8 230.0 C377.2 233.3 374.1 237.5 371.9 240.0 C369.7 242.5 368.0 243.4 365.5 245.0 C363.0 246.6 359.6 248.4 357.0 249.3 C354.4 250.2 351.8 250.2 350.0 250.3 C348.2 250.4 347.1 249.9 346.0 249.6 C344.9 249.2 344.3 248.2 343.5 248.2 C342.7 248.2 342.1 249.2 341.0 249.6 C339.9 249.9 338.8 250.4 337.0 250.3 C335.2 250.2 332.6 250.2 330.0 249.3 C327.4 248.4 324.0 246.6 321.5 245.0 C319.0 243.4 317.3 242.5 315.1 240.0 C312.9 237.5 309.8 233.3 308.2 230.0 C306.6 226.7 306.1 223.3 305.5 220.0 C304.9 216.7 304.6 213.3 304.4 210.0 C304.2 206.7 304.2 203.3 304.4 200.0 C304.6 196.7 305.0 193.3 305.5 190.0 C306.0 186.7 306.5 183.3 307.6 180.0 C308.8 176.7 310.4 173.3 312.4 170.0 C314.4 166.7 317.3 162.5 319.6 160.0 C321.9 157.5 323.8 156.4 326.3 155.0 C328.8 153.6 332.5 152.0 334.7 151.5 C336.9 151.0 338.0 151.5 339.5 151.8 C341.0 152.1 342.2 153.4 343.5 153.4Z" fill="none" stroke="#6a6a6a" stroke-width="2" opacity="0.9"/><rect x="300" y="140" width="90" height="120" filter="url(#nzL)" opacity="0.35"/><rect x="300" y="140" width="90" height="120" filter="url(#nz1)" mask="url(#rimmask)"/><g fill="none" stroke="#686868" stroke-width="3.6" filter="url(#bl5)" opacity="0.85"><path d="M343.5 153 L343.5 248"/></g><g fill="none" stroke="#4a4a4a" stroke-width="0.9" filter="url(#bl4)" opacity="0.8"><path d="M343.5 153 L343.5 248"/></g><ellipse cx="343.5" cy="223" rx="6" ry="9" fill="#8c8c8c" filter="url(#bl3)"/></g>
<g filter="url(#bl2)">
<path d="M323 25 C325 23 330 22.8 332 24.5 C333 26.5 331.5 29 330 30 C329.5 31.5 328.5 33 327.3 32.3 C326.5 31.3 325.5 30.8 324 31.5 C322 32.5 320 34.5 317.5 34.8 C315.8 34.9 316 33 317.5 32 C319.5 30.8 321.5 29.5 322.5 28.5 C322.6 27 322.2 26 323 25 Z" fill="#0d55ff"/>
<ellipse cx="326.5" cy="27" rx="2.6" ry="2.2" fill="#3d8bff"/>
<ellipse cx="361" cy="28.6" rx="10" ry="2.7" fill="#1464ff" transform="rotate(32 361 28.6)"/>
<ellipse cx="355.5" cy="25.3" rx="3.5" ry="2.6" fill="#1464ff" transform="rotate(32 355.5 25.3)"/>
<ellipse cx="360" cy="27" rx="5" ry="2" fill="#7ab8ff" transform="rotate(32 360 27)"/>
<ellipse cx="360" cy="27" rx="3" ry="1.3" fill="#f4faff" transform="rotate(32 360 27)"/>
<ellipse cx="324.5" cy="37.9" rx="2.3" ry="1.1" fill="#0d55ff" transform="rotate(-20 324.5 37.9)"/>
<ellipse cx="350.5" cy="49" rx="2" ry="1.8" fill="#1a5cff"/>
<ellipse cx="313.4" cy="61.4" rx="1.4" ry="1.3" fill="#1a5cff"/>
<ellipse cx="362.3" cy="306" rx="5" ry="2.8" fill="#1464ff" transform="rotate(30 362.3 306)"/>
<circle cx="366.2" cy="309.4" r="1.9" fill="#1464ff"/>
<ellipse cx="361.4" cy="305.3" rx="2.6" ry="1.4" fill="#6fb0ff" transform="rotate(30 361.4 305.3)"/>
<ellipse cx="361.2" cy="305.2" rx="1.4" ry="0.8" fill="#e0f0ff" transform="rotate(30 361.2 305.2)"/>
<ellipse cx="325.8" cy="317.4" rx="3.6" ry="2.3" fill="#0d55ff" transform="rotate(35 325.8 317.4)"/>
<ellipse cx="317.2" cy="312.4" rx="1.9" ry="1.2" fill="#0d55ff"/>
<ellipse cx="324.5" cy="305.6" rx="1" ry="0.9" fill="#0d55ff"/>
<path d="M329 326.5 C331 325.5 334 325.8 334.8 327.8 C335.5 330 334.8 332.5 332.8 333.2 C331 333.8 329.5 332.5 328.7 331 C328 329.5 328 327.3 329 326.5Z" fill="#0d55ff"/>
<ellipse cx="352.6" cy="329.8" rx="4.6" ry="2.9" fill="#1464ff" transform="rotate(-38 352.6 329.8)"/>
<ellipse cx="353" cy="329.4" rx="2" ry="1.2" fill="#5aa2ff" transform="rotate(-38 353 329.4)"/>
</g>
<circle cx="341.8" cy="184.4" r="5.7" fill="url(#dot)"/>
<path d="M302.2 14.3 L315.7 22.4 L313.4 26.3 L326.0 23.2 L322.8 10.7 L320.5 14.5 L307.0 6.5Z" fill="#ffff00" stroke="#111" stroke-width="0.9" stroke-linejoin="miter"/>
<path d="M379.9 4.3 L367.4 14.0 L364.6 10.5 L363.0 23.3 L375.9 24.8 L373.1 21.3 L385.5 11.5Z" fill="#ffff00" stroke="#111" stroke-width="0.9" stroke-linejoin="miter"/>
<path d="M364.3 160.0 L351.3 169.2 L348.5 165.3 L346.2 178.5 L359.4 180.8 L356.6 176.8 L369.7 167.6Z" fill="#ffff00" stroke="#111" stroke-width="0.9" stroke-linejoin="miter"/>
<path d="M309.2 347.8 L322.7 338.5 L325.3 342.2 L327.7 329.5 L315.0 327.2 L317.5 330.9 L304.0 340.2Z" fill="#ffff00" stroke="#111" stroke-width="0.9" stroke-linejoin="miter"/>
<path d="M381.3 337.9 L367.0 331.2 L368.9 327.2 L356.7 331.5 L361.2 343.6 L363.1 339.6 L377.3 346.3Z" fill="#ffff00" stroke="#111" stroke-width="0.9" stroke-linejoin="miter"/>
<text x="365.5" y="154.6" class="sd" textLength="86.8" lengthAdjust="spacingAndGlyphs">dACC seed region</text>
</svg>
</body></html>
